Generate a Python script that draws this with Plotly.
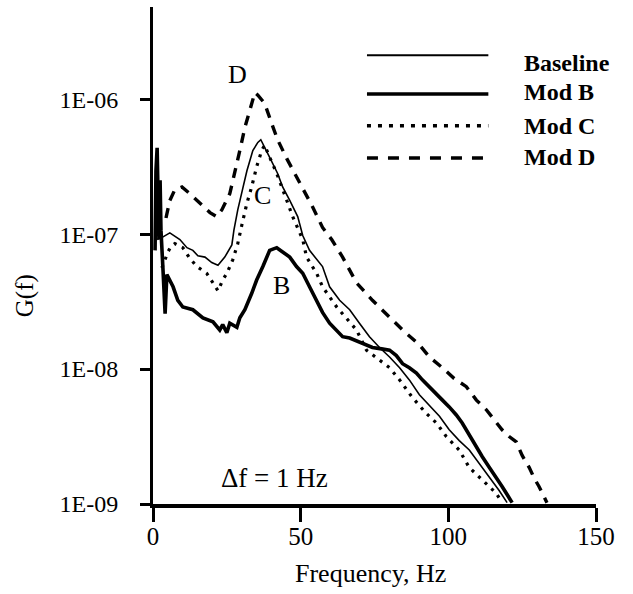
import numpy as np
import plotly.graph_objects as go

# ---- data (frequency in Hz, log10 of G(f)) ----
baseline_hz = [1.4, 3.4, 5.7, 9.1, 11.5, 13.5, 15.2, 17.6, 19.9, 22.0, 24.3, 26.7, 27.4, 28.7, 30.4,
               31.8, 33.8, 35.5, 36.5, 38.2, 39.5, 42.2, 43.9, 46.3, 49.0, 50.7, 53.0, 57.4, 59.8, 63.2,
               66.6, 69.9, 73.3, 76.7, 80.1, 83.5, 86.8, 90.2, 93.6, 97.0, 100.3, 103.7, 107.1, 110.5,
               113.9, 117.2, 119.9]
baseline_log = [-7.04, -7.02, -6.99, -7.04, -7.10, -7.12, -7.16, -7.17, -7.21, -7.23, -7.17, -7.08, -6.97,
                -6.82, -6.66, -6.53, -6.38, -6.32, -6.30, -6.38, -6.43, -6.55, -6.65, -6.75, -6.87, -7.01,
                -7.12, -7.24, -7.39, -7.49, -7.56, -7.66, -7.76, -7.84, -7.91, -7.99, -8.08, -8.19, -8.27,
                -8.35, -8.45, -8.53, -8.60, -8.70, -8.80, -8.90, -8.99]

modb_hz = [0.7, 1.0, 1.4, 1.7, 2.0, 2.4, 2.7, 3.4, 4.1, 4.7, 5.7, 6.8, 8.4, 10.1, 13.5, 16.9, 20.3, 22.6,
           23.6, 25.0, 26.0, 28.4, 29.4, 31.1, 33.4, 35.1, 37.2, 39.5, 41.9, 43.9, 46.3, 48.6, 50.7, 53.0,
           55.4, 57.4, 59.8, 62.2, 64.2, 66.6, 68.9, 71.6, 74.3, 77.4, 80.1, 82.4, 84.5, 86.8, 89.2, 91.2,
           93.6, 95.9, 98.0, 100.3, 102.7, 104.7, 107.1, 109.5, 111.5, 113.9, 116.2, 118.2, 119.9, 121.6]
modb_log = [-7.12, -6.53, -6.36, -6.75, -7.04, -6.60, -6.97, -7.27, -7.59, -7.30, -7.34, -7.39, -7.49,
            -7.54, -7.56, -7.62, -7.65, -7.71, -7.67, -7.73, -7.66, -7.69, -7.62, -7.56, -7.44, -7.34,
            -7.24, -7.12, -7.10, -7.13, -7.17, -7.24, -7.29, -7.39, -7.49, -7.58, -7.66, -7.71, -7.76,
            -7.77, -7.79, -7.82, -7.84, -7.85, -7.86, -7.90, -7.96, -7.99, -8.03, -8.08, -8.13, -8.18,
            -8.23, -8.28, -8.34, -8.40, -8.49, -8.58, -8.65, -8.73, -8.80, -8.87, -8.93, -8.99]

modc_hz = [3.0, 4.1, 5.1, 6.1, 7.4, 10.1, 12.5, 14.9, 18.2, 20.3, 22.0, 23.6, 25.0, 27.0, 28.7, 30.1,
           31.8, 33.4, 35.1, 36.8, 37.8, 39.5, 41.9, 45.3, 47.3, 50.7, 52.0, 55.4, 57.4, 62.2, 65.5, 68.9,
           72.3, 76.7, 80.1, 83.5, 87.8, 92.6, 96.0, 99.3, 103.7, 107.1, 111.5, 116.2, 118.2]
modc_log = [-7.25, -7.18, -7.13, -7.09, -7.07, -7.10, -7.18, -7.24, -7.29, -7.36, -7.42, -7.34, -7.29,
            -7.19, -7.07, -6.93, -6.77, -6.65, -6.50, -6.38, -6.34, -6.43, -6.55, -6.75, -6.87, -7.04,
            -7.17, -7.29, -7.39, -7.54, -7.62, -7.71, -7.86, -7.93, -7.99, -8.08, -8.21, -8.33, -8.40,
            -8.50, -8.60, -8.73, -8.82, -8.92, -8.99]

modd_hz = [4.4, 5.7, 7.4, 9.8, 12.5, 15.9, 19.3, 21.6, 23.3, 26.0, 27.7, 29.4, 31.1, 32.8, 34.5, 35.5,
           37.8, 40.2, 42.2, 45.3, 48.0, 50.7, 54.1, 57.4, 60.5, 64.2, 68.9, 74.3, 80.1, 84.5, 90.2, 93.6,
           98.0, 102.0, 106.1, 109.5, 112.8, 115.5, 118.2, 120.6, 123.0, 125.0, 127.4, 129.1, 130.7, 133.4]
modd_log = [-6.88, -6.75, -6.67, -6.65, -6.70, -6.77, -6.84, -6.87, -6.82, -6.70, -6.55, -6.38, -6.21,
            -6.08, -5.95, -5.97, -6.03, -6.18, -6.30, -6.44, -6.55, -6.65, -6.80, -6.95, -7.04, -7.17,
            -7.36, -7.49, -7.62, -7.71, -7.82, -7.91, -7.99, -8.07, -8.13, -8.23, -8.30, -8.38, -8.45,
            -8.50, -8.54, -8.64, -8.73, -8.81, -8.87, -8.99]

series_names = ["Baseline", "Mod B", "Mod C", "Mod D"]
x_ticks = [0, 50, 100, 150]
y_ticks = [1e-9, 1e-8, 1e-7, 1e-6]
y_tick_text = ["1E-09", "1E-08", "1E-07", "1E-06"]

# curve letter labels: (text, Hz, log10 G)
curve_labels = [("D", 28.7, -5.82), ("C", 37.2, -6.71), ("B", 43.6, -7.38)]

FONT = "Liberation Serif, Times New Roman, serif"
Y_RANGE = [-9, -5.316]
X_RANGE = [0, 150]
PLOT_W, PLOT_H = 443, 497  # plot area in pixels (633-153-37, 594-7-90)

styles = [
    dict(width=1.6, dash="solid"),
    dict(width=3.6, dash="solid"),
    dict(width=3.2, dash="3px,6px"),
    dict(width=3.4, dash="10px,8px"),
]
legend_styles = [
    dict(width=2, dash="solid"),
    dict(width=3.5, dash="solid"),
    dict(width=3.5, dash="4px,7px"),
    dict(width=3.5, dash="11px,10px"),
]

xs = [baseline_hz, modb_hz, modc_hz, modd_hz]
ys = [baseline_log, modb_log, modc_log, modd_log]

fig = go.Figure()
for name, x, ylog, st in zip(series_names, xs, ys, styles):
    fig.add_trace(go.Scatter(
        x=x, y=10 ** np.array(ylog), mode="lines", name=name,
        line=dict(color="black", width=st["width"], dash=st["dash"]),
        showlegend=False,
    ))

# heavy outside tick marks drawn as unclipped line markers just outside the axes
px_per_decade = PLOT_H / (Y_RANGE[1] - Y_RANGE[0])
px_per_hz = PLOT_W / (X_RANGE[1] - X_RANGE[0])
fig.add_trace(go.Scatter(
    x=x_ticks, y=[10 ** (Y_RANGE[0] - 7.5 / px_per_decade)] * len(x_ticks),
    mode="markers", cliponaxis=False, showlegend=False, hoverinfo="skip",
    marker=dict(symbol="line-ns", size=15, line=dict(color="black", width=3)),
))
fig.add_trace(go.Scatter(
    x=[X_RANGE[0] - 4.5 / px_per_hz] * len(y_ticks), y=y_ticks,
    mode="markers", cliponaxis=False, showlegend=False, hoverinfo="skip",
    marker=dict(symbol="line-ew", size=10, line=dict(color="black", width=3)),
))

annotations = []
for txt, hx, ly in curve_labels:
    annotations.append(dict(x=hx, y=ly, xref="x", yref="y", text=txt, showarrow=False,
                            xanchor="center", yanchor="middle",
                            font=dict(family=FONT, size=26, color="black")))
annotations.append(dict(x=41.2, y=-8.81, xref="x", yref="y", text="Δf = 1 Hz", showarrow=False,
                        xanchor="center", yanchor="middle",
                        font=dict(family=FONT, size=27, color="black")))

# custom legend (long line samples like the original)
leg_line_y = [0.903, 0.825, 0.761, 0.696]
leg_text_y = [0.887, 0.829, 0.760, 0.698]
shapes = []
for i, name in enumerate(series_names):
    st = legend_styles[i]
    shapes.append(dict(type="line", xref="paper", yref="paper", x0=0.483, x1=0.757,
                       y0=leg_line_y[i], y1=leg_line_y[i],
                       line=dict(color="black", width=st["width"], dash=st["dash"])))
    annotations.append(dict(x=0.833, y=leg_text_y[i], xref="paper", yref="paper",
                            text="<b>%s</b>" % name,
                            xanchor="left", yanchor="middle", showarrow=False,
                            font=dict(family=FONT, size=24, color="black")))

# axis titles
annotations.append(dict(x=-0.289, y=0.42, xref="paper", yref="paper", text="G(f)", textangle=-90,
                        xanchor="center", yanchor="middle",
                        showarrow=False, font=dict(family=FONT, size=25, color="black")))
annotations.append(dict(x=0.492, y=-0.139, xref="paper", yref="paper", text="Frequency, Hz",
                        xanchor="center", yanchor="middle",
                        showarrow=False, font=dict(family=FONT, size=26, color="black")))

fig.update_layout(
    width=633, height=594,
    margin=dict(l=153, r=37, t=7, b=90),
    paper_bgcolor="white", plot_bgcolor="white",
    showlegend=False,
    annotations=annotations,
    shapes=shapes,
    font=dict(family=FONT, size=24, color="black"),
)
fig.update_xaxes(
    range=X_RANGE, tickvals=x_ticks, ticktext=[str(v) for v in x_ticks],
    showgrid=False, zeroline=False, showline=True, linecolor="black", linewidth=3.5,
    ticks="outside", ticklen=14, tickwidth=3, tickcolor="black",
    tickfont=dict(family=FONT, size=25, color="black"), ticklabelstandoff=-7,
)
fig.update_yaxes(
    type="log", range=Y_RANGE, tickvals=y_ticks, ticktext=y_tick_text,
    showgrid=False, zeroline=False, showline=True, linecolor="black", linewidth=3,
    ticks="outside", ticklen=10, tickwidth=3, tickcolor="black",
    tickfont=dict(family=FONT, size=24, color="black"), ticklabelstandoff=17,
)

fig.write_html("out.html")
